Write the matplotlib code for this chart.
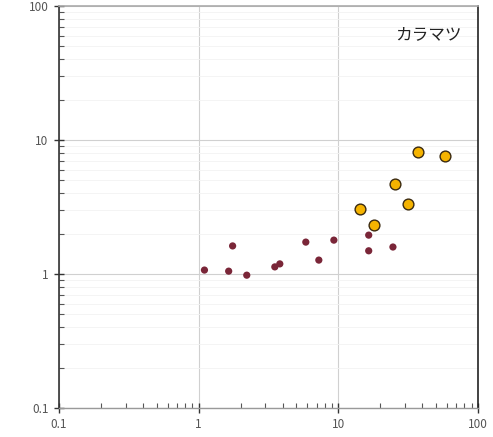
import matplotlib
matplotlib.use("Agg")
import matplotlib.pyplot as plt
from matplotlib.ticker import LogLocator, NullFormatter, FixedLocator, FixedFormatter

plt.rcParams['font.family'] = ['Noto Sans CJK JP', 'DejaVu Sans']

# small (dark red) points
small_x = [1.10, 1.64, 1.75, 2.21, 3.51, 3.81, 5.85, 7.25, 9.29, 16.5, 16.5, 24.6]
small_y = [1.07, 1.05, 1.62, 0.98, 1.13, 1.19, 1.73, 1.27, 1.79, 1.95, 1.49, 1.59]

# large (yellow) points
large_x = [14.3, 17.96, 31.7, 25.4, 36.9, 58.3]
large_y = [3.06, 2.32, 3.31, 4.72, 8.13, 7.64]

tick_vals = [0.1, 1, 10, 100]
tick_labels = ["0.1", "1", "10", "100"]
label = "カラマツ"

fig = plt.figure(figsize=(4.93, 4.37), dpi=100)
ax = fig.add_axes([59/493, (437-408)/437, (478-59)/493, (408-6)/437])
ax.set_xscale('log')
ax.set_yscale('log')
ax.set_xlim(0.1, 100)
ax.set_ylim(0.1, 100)

ax.grid(True, which='major', color='#d0d0d0', linewidth=0.8)
ax.grid(True, which='minor', axis='y', color='#f2f2f2', linewidth=0.6)
ax.set_axisbelow(True)

ax.scatter(small_x, small_y, s=27, color='#7a2638', edgecolors='none', zorder=3)
ax.scatter(large_x, large_y, s=60, color='#f5b300', edgecolors='#3a2a10', linewidths=1.0, zorder=4)

for axis in (ax.xaxis, ax.yaxis):
    axis.set_major_locator(FixedLocator(tick_vals))
    axis.set_major_formatter(FixedFormatter(tick_labels))
    axis.set_minor_locator(LogLocator(base=10, subs=range(2, 10), numticks=20))
    axis.set_minor_formatter(NullFormatter())

ax.tick_params(which='major', direction='inout', length=7, width=1.0, color='#333333',
               labelsize=8.5, labelcolor='#555555')
ax.tick_params(which='minor', direction='in', length=3.5, width=0.8, color='#555555')
ax.tick_params(axis='x', which='major', pad=4)
ax.tick_params(axis='y', which='major', pad=4)

ax.spines['left'].set_color('#333333')
ax.spines['bottom'].set_color('#999999')
ax.spines['top'].set_color('#aaaaaa')
ax.spines['right'].set_color('#222222')
ax.spines['left'].set_linewidth(1.2)
ax.spines['right'].set_linewidth(1.2)
ax.spines['top'].set_linewidth(1.2)
ax.spines['bottom'].set_linewidth(1.0)

ax.text(0.96, 0.93, label, transform=ax.transAxes, ha='right', va='center',
        fontsize=12, color='#222222')

fig.savefig('out.png', dpi=100)
